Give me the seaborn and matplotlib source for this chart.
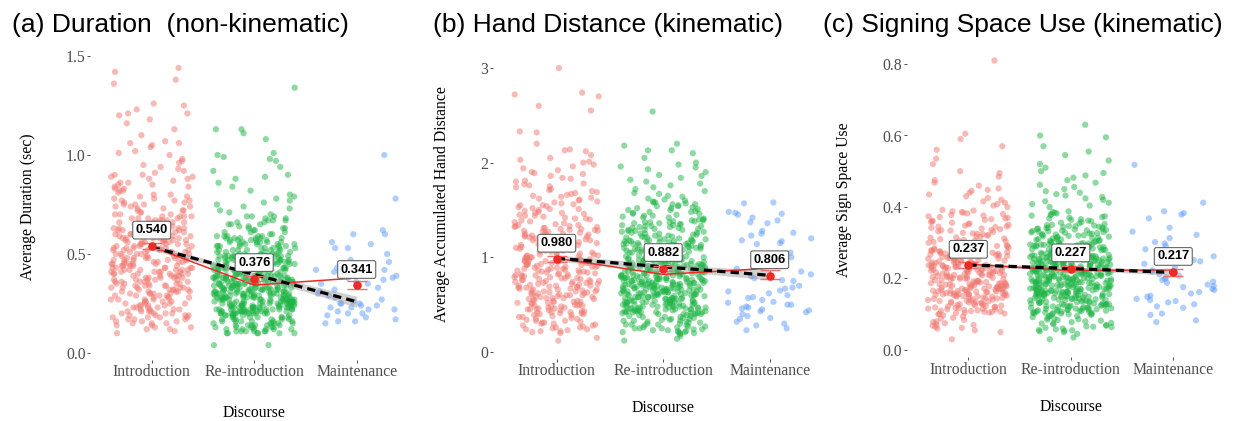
import numpy as np
import pandas as pd
import matplotlib
matplotlib.use("Agg")
import matplotlib.pyplot as plt
import seaborn as sns

# ---------------- data ----------------
categories = ["Introduction", "Re-introduction", "Maintenance"]
group_colors = ["#F0776F", "#1DB545", "#619CFF"]

# (a) Duration, values in hundredths of a second
dur_intro = [
    10, 11, 12, 12, 13, 13, 14, 14, 15, 15, 15, 16, 16, 16, 17, 17, 17, 18, 18, 18, 18, 19, 19, 19, 19,
    20, 20, 20, 20, 21, 21, 21, 21, 22, 22, 22, 22, 23, 23, 23, 23, 24, 24, 24, 24, 25, 25, 25, 25,
    26, 26, 26, 26, 27, 27, 27, 27, 28, 28, 28, 28, 29, 29, 29, 29,
    30, 31, 32, 33, 34, 35, 36, 37, 38, 39, 30, 31, 32, 33, 34, 35, 36, 37, 38, 39,
    30, 31, 32, 33, 34, 35, 36, 37, 38, 39, 30, 31, 32, 33, 34, 35, 36, 37, 38, 39,
    30, 31, 32, 33, 34, 35, 36, 37, 38, 39,
    40, 41, 42, 43, 44, 45, 46, 47, 48, 49, 40, 41, 42, 43, 44, 45, 46, 47, 48, 49,
    40, 41, 42, 43, 44, 45, 46, 47, 48, 49, 40, 41, 42, 43, 44, 45, 46, 47, 48, 49,
    40, 41, 42, 43, 44, 45, 46, 47, 48, 49, 40, 41, 42, 43, 45, 47,
    50, 51, 52, 53, 54, 55, 56, 57, 58, 59, 50, 51, 52, 53, 54, 55, 56, 57, 58, 59,
    50, 51, 52, 53, 54, 55, 56, 57, 58, 59, 50, 51, 52, 53, 54, 55, 56, 57, 58, 59,
    50, 51, 52, 53, 54, 55, 56, 57, 58, 59,
    60, 61, 62, 63, 64, 65, 66, 67, 68, 69, 60, 61, 62, 63, 64, 65, 66, 67, 68, 69,
    60, 61, 62, 63, 64, 65, 66, 67, 68, 69, 60, 61, 62, 63, 64, 65, 66, 67, 68, 69,
    70, 70, 70, 71, 71, 72, 72, 72, 73, 73, 74, 74, 74, 75, 75, 75, 76, 76, 77, 77, 77, 78, 78, 79, 79,
    80, 80, 81, 82, 82, 83, 83, 84, 84, 85, 85, 86, 86, 87, 88, 88, 89, 89,
    90, 90, 91, 92, 93, 94, 95, 96, 97, 98,
    100, 101, 102, 104, 105, 106, 106, 107,
    110, 113, 116, 118, 120, 121, 121, 123, 125, 126, 136, 138, 142, 144,
]
dur_reintro = [
    4, 4,
    10, 11, 12, 13, 14, 15, 16, 17, 18, 19, 10, 11, 12, 13, 14, 15, 16, 17, 18, 19,
    10, 11, 12, 13, 14, 15, 16, 17, 18, 19, 10, 11, 12, 13, 14, 15, 16, 17, 18, 19,
    10, 11, 12, 13, 14, 15, 16, 17, 18, 19, 10, 11, 12, 13, 14, 15, 16, 17, 18, 19,
    20, 21, 22, 23, 24, 25, 26, 27, 28, 29, 20, 21, 22, 23, 24, 25, 26, 27, 28, 29,
    20, 21, 22, 23, 24, 25, 26, 27, 28, 29, 20, 21, 22, 23, 24, 25, 26, 27, 28, 29,
    20, 21, 22, 23, 24, 25, 26, 27, 28, 29, 20, 21, 22, 23, 24, 25, 26, 27, 28, 29,
    20, 21, 22, 23, 24, 25, 26, 27, 28, 29, 20, 21, 22, 23, 24, 25, 26, 27, 28, 29,
    20, 21, 22, 23, 24, 25, 26, 27, 28, 29, 20, 21, 22, 23, 24, 25, 26, 27, 28, 29,
    20, 21, 22, 23, 24, 25, 26, 27, 28, 29, 20, 21, 22, 23, 24, 25, 26, 27, 28, 29,
    30, 31, 32, 33, 34, 35, 36, 37, 38, 39, 30, 31, 32, 33, 34, 35, 36, 37, 38, 39,
    30, 31, 32, 33, 34, 35, 36, 37, 38, 39, 30, 31, 32, 33, 34, 35, 36, 37, 38, 39,
    30, 31, 32, 33, 34, 35, 36, 37, 38, 39, 30, 31, 32, 33, 34, 35, 36, 37, 38, 39,
    30, 31, 32, 33, 34, 35, 36, 37, 38, 39, 30, 31, 32, 33, 34, 35, 36, 37, 38, 39,
    30, 31, 32, 33, 34, 35, 36, 37, 38, 39, 30, 31, 32, 33, 34, 35, 36, 37, 38, 39,
    30, 31, 32, 33, 34, 35, 36, 37, 38, 39,
    40, 41, 42, 43, 44, 45, 46, 47, 48, 49, 40, 41, 42, 43, 44, 45, 46, 47, 48, 49,
    40, 41, 42, 43, 44, 45, 46, 47, 48, 49, 40, 41, 42, 43, 44, 45, 46, 47, 48, 49,
    40, 41, 42, 43, 44, 45, 46, 47, 48, 49, 40, 41, 42, 43, 44, 45, 46, 47, 48, 49,
    40, 41, 42, 43, 44, 45, 46, 47, 48, 49, 40, 41, 42, 43, 44, 45, 46, 47, 48, 49,
    50, 51, 52, 53, 54, 55, 56, 57, 58, 59, 50, 51, 52, 53, 54, 55, 56, 57, 58, 59,
    50, 51, 52, 53, 54, 55, 56, 57, 58, 59, 50, 51, 52, 53, 54, 55, 56, 57, 58, 59,
    50, 51, 52, 53, 54, 55, 56, 57, 58, 59, 50, 52, 54, 56, 58,
    60, 61, 62, 63, 64, 65, 66, 67, 68, 69, 60, 61, 62, 63, 64, 65, 66, 67, 68, 69,
    61, 63, 65, 67, 69,
    70, 71, 72, 73, 74, 75, 76, 77, 78, 79,
    80, 82, 84, 86, 88, 89, 90, 92, 94, 97, 98, 99,
    100, 101, 108, 111, 113, 113, 134,
]
dur_maint = [
    100, 78, 62, 60, 60, 56, 55, 53, 53, 50, 47, 46, 45, 45, 43, 42, 42, 42, 41, 40,
    39, 38, 38, 37, 36, 35, 35, 34, 33, 32, 31, 30, 29, 28, 27, 26, 25, 25, 25, 24,
    24, 23, 23, 22, 22, 21, 20, 20, 19, 18, 17, 16, 16, 15,
]
dur_means = [0.540, 0.376, 0.341]
dur_err_low = [0.526, 0.365, 0.323]
dur_err_high = [0.555, 0.389, 0.364]
dur_trend = [0.537, 0.343, 0.379]
dur_fit = [0.535, 0.397, 0.259]
dur_fit_low = [0.519, 0.387, 0.231]
dur_fit_high = [0.551, 0.407, 0.287]

# (b) Hand distance, values in hundredths
hand_intro = [
    12, 15,
    20, 21, 22, 23, 24, 25, 26, 27, 28, 29, 30, 31, 32, 33, 34, 35, 36, 37, 38, 39,
    22, 24, 26, 28, 30, 31, 33, 35, 37, 39,
    40, 41, 42, 43, 44, 45, 46, 47, 48, 49, 50, 51, 52, 53, 54, 55, 56, 57, 58, 59,
    40, 41, 42, 43, 44, 45, 46, 47, 48, 49, 50, 51, 52, 53, 54, 55, 56, 57, 58, 59,
    41, 45, 49, 53, 57,
    60, 61, 62, 63, 64, 65, 66, 67, 68, 69, 70, 71, 72, 73, 74, 75, 76, 77, 78, 79,
    60, 61, 62, 63, 64, 65, 66, 67, 68, 69, 70, 71, 72, 73, 74, 75, 76, 77, 78, 79,
    60, 62, 64, 66, 68, 70, 72, 74, 76, 78,
    80, 81, 82, 83, 84, 85, 86, 87, 88, 89, 90, 91, 92, 93, 94, 95, 96, 97, 98, 99,
    80, 81, 82, 83, 84, 85, 86, 87, 88, 89, 90, 91, 92, 93, 94, 95, 96, 97, 98, 99,
    80, 82, 84, 86, 88, 90, 92, 94, 96, 98,
    100, 101, 102, 103, 104, 105, 106, 107, 108, 109, 110, 111, 112, 113, 114, 115, 116, 117, 118, 119,
    100, 101, 102, 103, 104, 105, 106, 107, 108, 109, 110, 111, 112, 113, 114, 115, 116, 117, 118, 119,
    120, 121, 122, 123, 124, 125, 126, 127, 128, 129, 130, 131, 132, 133, 134, 135, 136, 137, 138, 139,
    120, 121, 122, 123, 124, 125, 126, 127, 128, 129, 130, 131, 132, 133, 134,
    140, 141, 142, 143, 144, 145, 146, 147, 148, 149, 150, 151, 152, 153, 154, 155, 156, 157, 158, 159,
    141, 144, 147, 151, 155,
    160, 161, 162, 163, 164, 165, 166, 167, 168, 169, 170, 171, 172, 174, 175, 176, 177, 178,
    180, 181, 183, 184, 186, 188, 189, 190, 192, 194, 196, 198,
    200, 201, 203, 205, 208, 212, 213, 214,
    220, 232, 233, 255, 260, 270, 272, 274, 300,
]
hand_reintro = [
    12, 14, 17, 19,
    20, 21, 22, 23, 24, 25, 26, 27, 28, 29, 30, 31, 32, 33, 34, 35, 36, 37, 38, 39,
    20, 21, 22, 23, 24, 25, 26, 27, 28, 29, 30, 31, 32, 33, 34, 35, 36, 37, 38, 39,
    21, 25, 29, 33, 37,
    40, 41, 42, 43, 44, 45, 46, 47, 48, 49, 50, 51, 52, 53, 54, 55, 56, 57, 58, 59,
    40, 41, 42, 43, 44, 45, 46, 47, 48, 49, 50, 51, 52, 53, 54, 55, 56, 57, 58, 59,
    40, 41, 42, 43, 44, 45, 46, 47, 48, 49, 50, 51, 52, 53, 54, 55, 56, 57, 58, 59,
    40, 41, 42, 43, 44, 45, 46, 47, 48, 49, 50, 51, 52, 53, 54, 55, 56, 57, 58, 59,
    42, 46, 50, 54, 58,
    60, 61, 62, 63, 64, 65, 66, 67, 68, 69, 70, 71, 72, 73, 74, 75, 76, 77, 78, 79,
    60, 61, 62, 63, 64, 65, 66, 67, 68, 69, 70, 71, 72, 73, 74, 75, 76, 77, 78, 79,
    60, 61, 62, 63, 64, 65, 66, 67, 68, 69, 70, 71, 72, 73, 74, 75, 76, 77, 78, 79,
    60, 61, 62, 63, 64, 65, 66, 67, 68, 69, 70, 71, 72, 73, 74, 75, 76, 77, 78, 79,
    60, 61, 62, 63, 64, 65, 66, 67, 68, 69, 70, 71, 72, 73, 74, 75, 76, 77, 78, 79,
    80, 81, 82, 83, 84, 85, 86, 87, 88, 89, 90, 91, 92, 93, 94, 95, 96, 97, 98, 99,
    80, 81, 82, 83, 84, 85, 86, 87, 88, 89, 90, 91, 92, 93, 94, 95, 96, 97, 98, 99,
    80, 81, 82, 83, 84, 85, 86, 87, 88, 89, 90, 91, 92, 93, 94, 95, 96, 97, 98, 99,
    80, 81, 82, 83, 84, 85, 86, 87, 88, 89, 90, 91, 92, 93, 94, 95, 96, 97, 98, 99,
    81, 85, 89, 93, 97,
    100, 101, 102, 103, 104, 105, 106, 107, 108, 109, 110, 111, 112, 113, 114, 115, 116, 117, 118, 119,
    100, 101, 102, 103, 104, 105, 106, 107, 108, 109, 110, 111, 112, 113, 114, 115, 116, 117, 118, 119,
    100, 101, 102, 103, 104, 105, 106, 107, 108, 109, 110, 111, 112, 113, 114, 115, 116, 117, 118, 119,
    101, 105, 109, 113, 117,
    120, 121, 122, 123, 124, 125, 126, 127, 128, 129, 130, 131, 132, 133, 134, 135, 136, 137, 138, 139,
    120, 121, 122, 123, 124, 125, 126, 127, 128, 129, 130, 131, 132, 133, 134, 135, 136, 137, 138, 139,
    121, 125, 129, 133, 137,
    140, 141, 142, 143, 144, 145, 146, 147, 148, 149, 150, 151, 152, 153, 154, 155, 156, 157, 158, 159,
    140, 142, 144, 146, 148, 150, 152, 154, 156, 158,
    160, 161, 162, 164, 165, 167, 168, 170, 172, 174, 176, 178,
    180, 182, 184, 186, 187, 190, 193, 195, 196, 198,
    200, 205, 210, 213, 213, 218, 220, 254,
]
hand_maint = [
    158, 157, 148, 147, 146, 145, 142, 139, 137, 136, 128, 126, 125, 123, 120, 118, 117, 115, 114, 105,
    100, 97, 90, 88, 85, 82, 80, 78, 76, 75, 70, 68, 67, 65, 64, 62, 60, 58, 57, 55,
    53, 52, 50, 50, 48, 47, 46, 45, 44, 43, 42, 40, 38, 36, 35, 32, 30, 28, 25, 23,
]
hand_means = [0.980, 0.882, 0.806]
hand_err_low = [0.955, 0.860, 0.770]
hand_err_high = [1.010, 0.905, 0.866]
hand_trend = [0.990, 0.820, 0.884]
hand_fit = [0.990, 0.900, 0.810]
hand_fit_low = [0.955, 0.870, 0.760]
hand_fit_high = [1.025, 0.930, 0.860]

# (c) Signing space use, values in thousandths
space_intro = [
    30, 50,
    55, 60, 62, 65, 68, 70, 72, 75, 78, 80, 84, 88, 90, 94, 97,
    100, 101, 102, 103, 104, 105, 106, 107, 108, 109, 110, 111, 112, 113, 114, 115, 116, 117, 118, 119,
    120, 121, 122, 123, 124, 125, 126, 127, 128, 129, 130, 131, 132, 133, 134, 135, 136, 137, 138, 139,
    140, 141, 142, 143, 144, 145, 146, 147, 148, 149,
    150, 151, 152, 153, 154, 155, 156, 157, 158, 159, 160, 161, 162, 163, 164, 165, 166, 167, 168, 169,
    170, 171, 172, 173, 174, 175, 176, 177, 178, 179, 180, 181, 182, 183, 184, 185, 186, 187, 188, 189,
    190, 191, 192, 193, 194, 195, 196, 197, 198, 199,
    150, 152, 154, 156, 158, 160, 162, 164, 166, 168, 170, 172, 174, 176, 178, 180, 182, 184, 186, 188,
    200, 201, 202, 203, 204, 205, 206, 207, 208, 209, 210, 211, 212, 213, 214, 215, 216, 217, 218, 219,
    220, 221, 222, 223, 224, 225, 226, 227, 228, 229, 230, 231, 232, 233, 234, 235, 236, 237, 238, 239,
    240, 241, 242, 243, 244, 245, 246, 247, 248, 249,
    201, 204, 207, 210, 213, 216, 219, 222, 225, 228, 231, 234, 237, 240, 243,
    250, 251, 252, 253, 254, 255, 256, 257, 258, 259, 260, 261, 262, 263, 264, 265, 266, 267, 268, 269,
    270, 271, 272, 273, 274, 275, 276, 277, 278, 279, 280, 281, 282, 283, 284, 285, 286, 287, 288, 289,
    290, 291, 292, 293, 294,
    300, 302, 304, 306, 308, 310, 312, 314, 316, 318, 320, 322, 324, 326, 328, 330, 332, 334, 336, 338,
    340, 342, 344, 346, 348, 305, 315, 325, 335, 345,
    350, 352, 354, 356, 358, 360, 362, 364, 366, 368, 370, 372, 374, 376, 378, 380, 382, 384, 386, 388,
    390, 392,
    400, 404, 408, 412, 416, 420, 425, 430, 435, 440, 445, 448,
    452, 460, 468, 475, 485, 495, 500, 520, 535, 560, 570, 590, 605, 810,
]
space_reintro = [
    30, 35, 45,
    50, 52, 54, 56, 58, 60, 62, 64, 66, 68, 70, 72, 74, 76, 78, 80, 82, 84, 86, 88, 90,
    92, 94, 96, 98, 55, 65, 75, 85, 95,
    100, 101, 102, 103, 104, 105, 106, 107, 108, 109, 110, 111, 112, 113, 114, 115, 116, 117, 118, 119,
    120, 121, 122, 123, 124, 125, 126, 127, 128, 129, 130, 131, 132, 133, 134, 135, 136, 137, 138, 139,
    140, 141, 142, 143, 144, 145, 146, 147, 148, 149,
    100, 102, 104, 106, 108, 110, 112, 114, 116, 118, 120, 122, 124, 126, 128, 130, 132, 134, 136, 138,
    140, 142, 144, 146, 148,
    150, 151, 152, 153, 154, 155, 156, 157, 158, 159, 160, 161, 162, 163, 164, 165, 166, 167, 168, 169,
    170, 171, 172, 173, 174, 175, 176, 177, 178, 179, 180, 181, 182, 183, 184, 185, 186, 187, 188, 189,
    190, 191, 192, 193, 194, 195, 196, 197, 198, 199,
    150, 151, 152, 153, 154, 155, 156, 157, 158, 159, 160, 161, 162, 163, 164, 165, 166, 167, 168, 169,
    170, 171, 172, 173, 174, 175, 176, 177, 178, 179, 180, 181, 182, 183, 184, 185, 186, 187, 188, 189,
    190, 191, 192, 193, 194, 195, 196, 197, 198, 199,
    200, 201, 202, 203, 204, 205, 206, 207, 208, 209, 210, 211, 212, 213, 214, 215, 216, 217, 218, 219,
    220, 221, 222, 223, 224, 225, 226, 227, 228, 229, 230, 231, 232, 233, 234, 235, 236, 237, 238, 239,
    240, 241, 242, 243, 244, 245, 246, 247, 248, 249,
    200, 201, 202, 203, 204, 205, 206, 207, 208, 209, 210, 211, 212, 213, 214, 215, 216, 217, 218, 219,
    220, 221, 222, 223, 224, 225, 226, 227, 228, 229, 230, 231, 232, 233, 234, 235, 236, 237, 238, 239,
    240, 241, 242, 243, 244, 245, 246, 247, 248, 249,
    250, 251, 252, 253, 254, 255, 256, 257, 258, 259, 260, 261, 262, 263, 264, 265, 266, 267, 268, 269,
    270, 271, 272, 273, 274, 275, 276, 277, 278, 279, 280, 281, 282, 283, 284, 285, 286, 287, 288, 289,
    290, 291, 292, 293, 294, 295, 296, 297, 298, 299,
    250, 252, 254, 256, 258, 260, 262, 264, 266, 268, 270, 272, 274, 276, 278, 280, 282, 284, 286, 288,
    290, 292, 294, 296, 298, 255, 265, 275, 285, 295,
    300, 301, 302, 303, 304, 305, 306, 307, 308, 309, 310, 311, 312, 313, 314, 315, 316, 317, 318, 319,
    320, 321, 322, 323, 324, 325, 326, 327, 328, 329, 330, 331, 332, 333, 334, 335, 336, 337, 338, 339,
    340, 341, 342, 343, 344, 345, 346, 347, 348, 349,
    350, 352, 354, 356, 358, 360, 362, 364, 366, 368, 370, 372, 374, 376, 378, 380, 382, 384, 386, 388,
    400, 404, 408, 412, 416, 420, 424, 428, 432, 436, 440, 444,
    450, 456, 462, 468, 475, 482, 488, 495, 500, 510, 520, 530, 545, 555, 570, 595, 600, 630,
]
space_maint = [
    518, 412, 388, 383, 379, 368, 342, 331, 322, 313, 302, 298, 291, 282, 278, 271, 268,
    262, 252, 248, 241, 232, 223, 219, 212, 208, 203, 199, 196, 191, 188, 183, 179, 176,
    171, 168, 162, 158, 152, 149, 143, 140, 137, 133, 128, 122, 118, 102, 98, 83, 78,
]
space_means = [0.237, 0.227, 0.217]
space_err_low = [0.230, 0.220, 0.207]
space_err_high = [0.245, 0.234, 0.227]
space_trend = [0.240, 0.222, 0.224]
space_fit = [0.238, 0.228, 0.217]
space_fit_low = [0.232, 0.224, 0.209]
space_fit_high = [0.244, 0.232, 0.225]

titles = ["(a) Duration  (non-kinematic)", "(b) Hand Distance (kinematic)",
          "(c) Signing Space Use (kinematic)"]
ylabels = ["Average Duration (sec)", "Average Accumulated Hand Distance",
           "Average Sign Space Use"]
xlabel_text = "Discourse"
ytick_values = [[0.0, 0.5, 1.0, 1.5], [0, 1, 2, 3], [0.0, 0.2, 0.4, 0.6, 0.8]]
ytick_labels = [["0.0", "0.5", "1.0", "1.5"], ["0", "1", "2", "3"],
                ["0.0", "0.2", "0.4", "0.6", "0.8"]]

# ---------------- style ----------------
sns.set_theme(style="white")
plt.rcParams["font.family"] = ["Liberation Serif", "DejaVu Serif"]

W, H = 1234, 421
fig = plt.figure(figsize=(W / 100, H / 100), dpi=100)
RED = "#EE2A24"
SANS = ["Liberation Sans", "DejaVu Sans"]

# layout (pixels): axes left/right, category-0 pixel, spacing, y-zero pixel, px/unit, ylim
layout = [
    dict(x0=90.2, x1=418.2, p0=151.7, sp=102.5, yz=353.0, ppu=198.0, ylim=(-0.035, 1.53),
         title_x=12, ylab=(28.5, 206.5), xlab=(254, 413)),
    dict(x0=493.0, x1=834.0, p0=556.7, sp=106.5, yz=352.0, ppu=94.67, ylim=(-0.07, 3.12),
         title_x=433, ylab=(442.5, 204), xlab=(663, 408)),
    dict(x0=906.8, x1=1234.0, p0=968.3, sp=102.5, yz=350.0, ppu=357.5, ylim=(-0.02, 0.85),
         title_x=823, ylab=(844, 200), xlab=(1070.7, 407)),
]

panels = [
    ([dur_intro, dur_reintro, dur_maint], 100.0, dur_means, dur_err_low, dur_err_high,
     dur_trend, dur_fit, dur_fit_low, dur_fit_high),
    ([hand_intro, hand_reintro, hand_maint], 100.0, hand_means, hand_err_low, hand_err_high,
     hand_trend, hand_fit, hand_fit_low, hand_fit_high),
    ([space_intro, space_reintro, space_maint], 1000.0, space_means, space_err_low, space_err_high,
     space_trend, space_fit, space_fit_low, space_fit_high),
]

np.random.seed(7)
pos = np.arange(len(categories))
for i, (vals, scale, means, lo, hi, trend, fit, flo, fhi) in enumerate(panels):
    L = layout[i]
    ybot = L["yz"] - L["ylim"][0] * L["ppu"]
    ytop = L["yz"] - L["ylim"][1] * L["ppu"]
    ax = fig.add_axes([L["x0"] / W, 1 - ybot / H, (L["x1"] - L["x0"]) / W, (ybot - ytop) / H])
    ax.set_facecolor("white")

    df = pd.DataFrame({
        "Discourse": np.repeat(categories, [len(v) for v in vals]),
        "value": np.concatenate([np.asarray(v, float) for v in vals]) / scale,
    })
    sns.stripplot(data=df, x="Discourse", y="value", hue="Discourse", order=categories,
                  hue_order=categories, palette=group_colors, jitter=0.4, size=4.5,
                  alpha=0.5, linewidth=0, legend=False, ax=ax, zorder=1)

    means = np.asarray(means)
    ax.fill_between(pos, flo, fhi, color="#9a9a9a", alpha=0.45, lw=0, zorder=3)
    ax.plot(pos, trend, color=RED, lw=1.1, zorder=4)
    ax.plot(pos, fit, color="black", lw=2.3, dashes=(2.6, 1.6), zorder=5)
    ax.errorbar(pos, means, yerr=[means - np.asarray(lo), np.asarray(hi) - means], fmt="none",
                ecolor="#F07070", elinewidth=1.0, capsize=7, capthick=1.0, zorder=6)
    ax.scatter(pos, means, s=38, color=RED, lw=0, zorder=7)
    for p, m in zip(pos, means):
        ax.annotate(f"{m:.3f}", xy=(p, m), xytext=(0, 11.5), textcoords="offset points",
                    ha="center", va="center", fontsize=9.3, fontweight="bold", family=SANS,
                    color="black", zorder=8,
                    bbox=dict(boxstyle="round,pad=0.22,rounding_size=0.15", fc="white",
                              ec="#666666", lw=0.8))

    ax.set_xlim((L["x0"] - L["p0"]) / L["sp"], (L["x1"] - L["p0"]) / L["sp"])
    ax.set_ylim(*L["ylim"])
    ax.set_xticks(pos)
    ax.set_xticklabels(categories)
    ax.set_yticks(ytick_values[i])
    ax.set_yticklabels(ytick_labels[i])
    ax.set_xlabel("")
    ax.set_ylabel("")
    for s in ax.spines.values():
        s.set_visible(False)
    ax.grid(False)
    ax.tick_params(axis="both", which="major", length=2.2, width=0.6, color="#333333",
                   labelcolor="#4D4D4D", labelsize=11.3, pad=1, direction="out",
                   bottom=True, left=True)

    fig.text(L["title_x"] / W, 1 - 25 / H, titles[i], ha="left", va="center",
             fontsize=19, family=SANS, color="black")
    fig.text(L["ylab"][0] / W, 1 - L["ylab"][1] / H, ylabels[i], rotation=90,
             ha="center", va="center", fontsize=11.3, color="black")
    fig.text(L["xlab"][0] / W, 1 - L["xlab"][1] / H, xlabel_text, ha="center",
             va="center", fontsize=11.3, color="black")

fig.savefig("out.png", dpi=100, facecolor="white")
